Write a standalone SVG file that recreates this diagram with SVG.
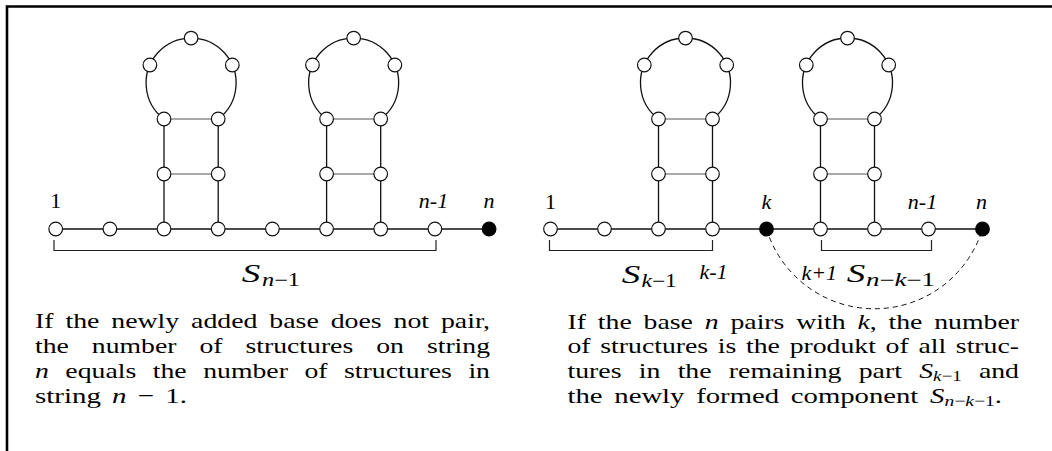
<svg xmlns="http://www.w3.org/2000/svg" width="1052" height="451" viewBox="0 0 1052 451">
<style>
.ln{stroke:#111;stroke-width:1.3;fill:none}
.rg{stroke:#555;stroke-width:1.1;fill:none}
.br{stroke:#222;stroke-width:1.2;fill:none}
.ds{stroke:#111;stroke-width:1;fill:none;stroke-dasharray:5 4}
.nd{fill:#fff;stroke:#111;stroke-width:1.2}
.nf{fill:#000;stroke:#000;stroke-width:1.2}
.lb{font-family:"Liberation Serif",serif;font-size:22px;fill:#000}
.it{font-style:italic}
.ms{font-family:"Liberation Serif",serif;font-size:26px;font-style:italic;fill:#000}
.sb{font-family:"Liberation Serif",serif;font-size:18px;fill:#000}
.tx{font-family:"Liberation Serif",serif;font-size:22px;fill:#000}
</style>
<rect width="1052" height="451" fill="#fff"/>
<path d="M7 451 V6.5 H1052" stroke="#000" stroke-width="2.6" fill="none"/>

<g id="connectors">
  <path class="ln" d="M55.7 229 H489.1"/>
  <path class="ln" d="M164 229 V119 M218.2 229 V119 M326.6 229 V119 M380.7 229 V119"/>
  <path class="rg" d="M164 174 H218.2 M164 119 H218.2 M326.6 174 H380.7 M326.6 119 H380.7"/>
  <path class="ln" d="M164 119 A45 45 0 1 1 218.2 119"/>
  <path class="ln" d="M326.6 119 A45 45 0 1 1 380.7 119"/>
  <path class="ln" d="M550.5 229 H982.5"/>
  <path class="ln" d="M658.5 229 V119 M712.5 229 V119 M820.5 229 V119 M874.5 229 V119"/>
  <path class="rg" d="M658.5 174 H712.5 M658.5 119 H712.5 M820.5 174 H874.5 M820.5 119 H874.5"/>
  <path class="ln" d="M658.5 119 A45 45 0 1 1 712.5 119"/>
  <path class="ln" d="M820.5 119 A45 45 0 1 1 874.5 119"/>
  <path class="ds" d="M766.5 229 A113 113 0 0 0 982.5 229"/>
</g>

<g id="brackets">
  <path class="br" d="M54 240 V250.5 H436 V240"/>
  <path class="br" d="M549.5 240 V250.5 H712.5 V240"/>
  <path class="br" d="M821.5 240 V250.5 H931.5 V240"/>
</g>

<g id="left-nodes">
  <g id="L1"><circle class="nd" cx="55.7" cy="229" r="6.8"/></g>
  <g id="L2"><circle class="nd" cx="109.9" cy="229" r="6.8"/></g>
  <g id="L3"><circle class="nd" cx="164" cy="229" r="6.8"/></g>
  <g id="L4"><circle class="nd" cx="218.2" cy="229" r="6.8"/></g>
  <g id="L5"><circle class="nd" cx="272.4" cy="229" r="6.8"/></g>
  <g id="L6"><circle class="nd" cx="326.6" cy="229" r="6.8"/></g>
  <g id="L7"><circle class="nd" cx="380.7" cy="229" r="6.8"/></g>
  <g id="L8"><circle class="nd" cx="434.9" cy="229" r="6.8"/></g>
  <g id="L9"><circle class="nf" cx="489.1" cy="229" r="6.8"/></g>
  <g id="LA1"><circle class="nd" cx="164" cy="174" r="6.8"/></g>
  <g id="LA2"><circle class="nd" cx="218.2" cy="174" r="6.8"/></g>
  <g id="LA3"><circle class="nd" cx="164" cy="119" r="6.8"/></g>
  <g id="LA4"><circle class="nd" cx="218.2" cy="119" r="6.8"/></g>
  <g id="LA5"><circle class="nd" cx="149.9" cy="65" r="6.8"/></g>
  <g id="LA6"><circle class="nd" cx="191.1" cy="38.1" r="6.8"/></g>
  <g id="LA7"><circle class="nd" cx="232.3" cy="65" r="6.8"/></g>
  <g id="LB1"><circle class="nd" cx="326.6" cy="174" r="6.8"/></g>
  <g id="LB2"><circle class="nd" cx="380.7" cy="174" r="6.8"/></g>
  <g id="LB3"><circle class="nd" cx="326.6" cy="119" r="6.8"/></g>
  <g id="LB4"><circle class="nd" cx="380.7" cy="119" r="6.8"/></g>
  <g id="LB5"><circle class="nd" cx="312.45" cy="65" r="6.8"/></g>
  <g id="LB6"><circle class="nd" cx="353.65" cy="38.1" r="6.8"/></g>
  <g id="LB7"><circle class="nd" cx="394.85" cy="65" r="6.8"/></g>
</g>

<g id="right-nodes">
  <g id="R1"><circle class="nd" cx="550.5" cy="229" r="6.8"/></g>
  <g id="R2"><circle class="nd" cx="604.5" cy="229" r="6.8"/></g>
  <g id="R3"><circle class="nd" cx="658.5" cy="229" r="6.8"/></g>
  <g id="R4"><circle class="nd" cx="712.5" cy="229" r="6.8"/></g>
  <g id="R5"><circle class="nf" cx="766.5" cy="229" r="6.8"/></g>
  <g id="R6"><circle class="nd" cx="820.5" cy="229" r="6.8"/></g>
  <g id="R7"><circle class="nd" cx="874.5" cy="229" r="6.8"/></g>
  <g id="R8"><circle class="nd" cx="928.5" cy="229" r="6.8"/></g>
  <g id="R9"><circle class="nf" cx="982.5" cy="229" r="6.8"/></g>
  <g id="RA1"><circle class="nd" cx="658.5" cy="174" r="6.8"/></g>
  <g id="RA2"><circle class="nd" cx="712.5" cy="174" r="6.8"/></g>
  <g id="RA3"><circle class="nd" cx="658.5" cy="119" r="6.8"/></g>
  <g id="RA4"><circle class="nd" cx="712.5" cy="119" r="6.8"/></g>
  <g id="RA5"><circle class="nd" cx="644.3" cy="65" r="6.8"/></g>
  <g id="RA6"><circle class="nd" cx="685.5" cy="38.1" r="6.8"/></g>
  <g id="RA7"><circle class="nd" cx="726.7" cy="65" r="6.8"/></g>
  <g id="RB1"><circle class="nd" cx="820.5" cy="174" r="6.8"/></g>
  <g id="RB2"><circle class="nd" cx="874.5" cy="174" r="6.8"/></g>
  <g id="RB3"><circle class="nd" cx="820.5" cy="119" r="6.8"/></g>
  <g id="RB4"><circle class="nd" cx="874.5" cy="119" r="6.8"/></g>
  <g id="RB5"><circle class="nd" cx="806.3" cy="65" r="6.8"/></g>
  <g id="RB6"><circle class="nd" cx="847.5" cy="38.1" r="6.8"/></g>
  <g id="RB7"><circle class="nd" cx="888.7" cy="65" r="6.8"/></g>
</g>

<g id="labels">
  <text class="lb" x="55.7" y="208.3" text-anchor="middle">1</text>
  <text class="lb it" x="433.5" y="208.3" text-anchor="middle">n-1</text>
  <text class="lb it" x="489" y="208.3" text-anchor="middle">n</text>
  <text class="lb" x="550.5" y="208.5" text-anchor="middle">1</text>
  <text class="lb it" x="766.5" y="208.5" text-anchor="middle">k</text>
  <text class="lb it" x="922.5" y="208.5" text-anchor="middle">n-1</text>
  <text class="lb it" x="981.5" y="208.5" text-anchor="middle">n</text>
  <text class="lb it" x="699.5" y="278.5">k-1</text>
  <text class="lb it" x="801.5" y="279.5">k+1</text>
  <text class="ms" x="241.7" y="282" textLength="18.5" lengthAdjust="spacingAndGlyphs">S</text>
  <text class="sb" x="262" y="285.5" textLength="38" lengthAdjust="spacingAndGlyphs"><tspan class="it">n</tspan>−1</text>
  <text class="ms" x="621.8" y="283" textLength="18.5" lengthAdjust="spacingAndGlyphs">S</text>
  <text class="sb" x="641.5" y="287" textLength="35.3" lengthAdjust="spacingAndGlyphs"><tspan class="it">k</tspan>−1</text>
  <text class="ms" x="846.7" y="282" textLength="18.5" lengthAdjust="spacingAndGlyphs">S</text>
  <text class="sb" x="866" y="286" textLength="69" lengthAdjust="spacingAndGlyphs"><tspan class="it">n</tspan>−<tspan class="it">k</tspan>−1</text>
</g>

<g id="caption-left">
  <text class="tx" x="35" y="328.3" textLength="455" lengthAdjust="spacingAndGlyphs" word-spacing="3.9">If the newly added base does not pair,</text>
  <text class="tx" x="35" y="353" textLength="455" lengthAdjust="spacingAndGlyphs" word-spacing="12.8">the number of structures on string</text>
  <text class="tx" x="35" y="377.8" textLength="455" lengthAdjust="spacingAndGlyphs" word-spacing="7.6"><tspan class="it">n</tspan> equals the number of structures in</text>
  <text class="tx" x="35" y="402.6" textLength="152" lengthAdjust="spacingAndGlyphs" word-spacing="3">string <tspan class="it">n</tspan> − 1.</text>
</g>

<g id="caption-right">
  <text class="tx" x="567.5" y="328.5" textLength="451.5" lengthAdjust="spacingAndGlyphs" word-spacing="3.9">If the base <tspan class="it">n</tspan> pairs with <tspan class="it">k</tspan>, the number</text>
  <text class="tx" x="567.5" y="353.3" textLength="451.5" lengthAdjust="spacingAndGlyphs" word-spacing="2.2">of structures is the produkt of all struc-</text>
  <text class="tx" x="567.5" y="378.1" textLength="451.5" lengthAdjust="spacingAndGlyphs" word-spacing="8.2">tures in the remaining part <tspan class="it">S</tspan><tspan dy="3" font-size="15"><tspan class="it">k</tspan>−1</tspan><tspan dy="-3"> and</tspan></text>
  <text class="tx" x="567.5" y="402.9" textLength="434.5" lengthAdjust="spacingAndGlyphs" word-spacing="3.5">the newly formed component <tspan class="it">S</tspan><tspan dy="3" font-size="15"><tspan class="it">n</tspan>−<tspan class="it">k</tspan>−1</tspan><tspan dy="-3">.</tspan></text>
</g>
</svg>
